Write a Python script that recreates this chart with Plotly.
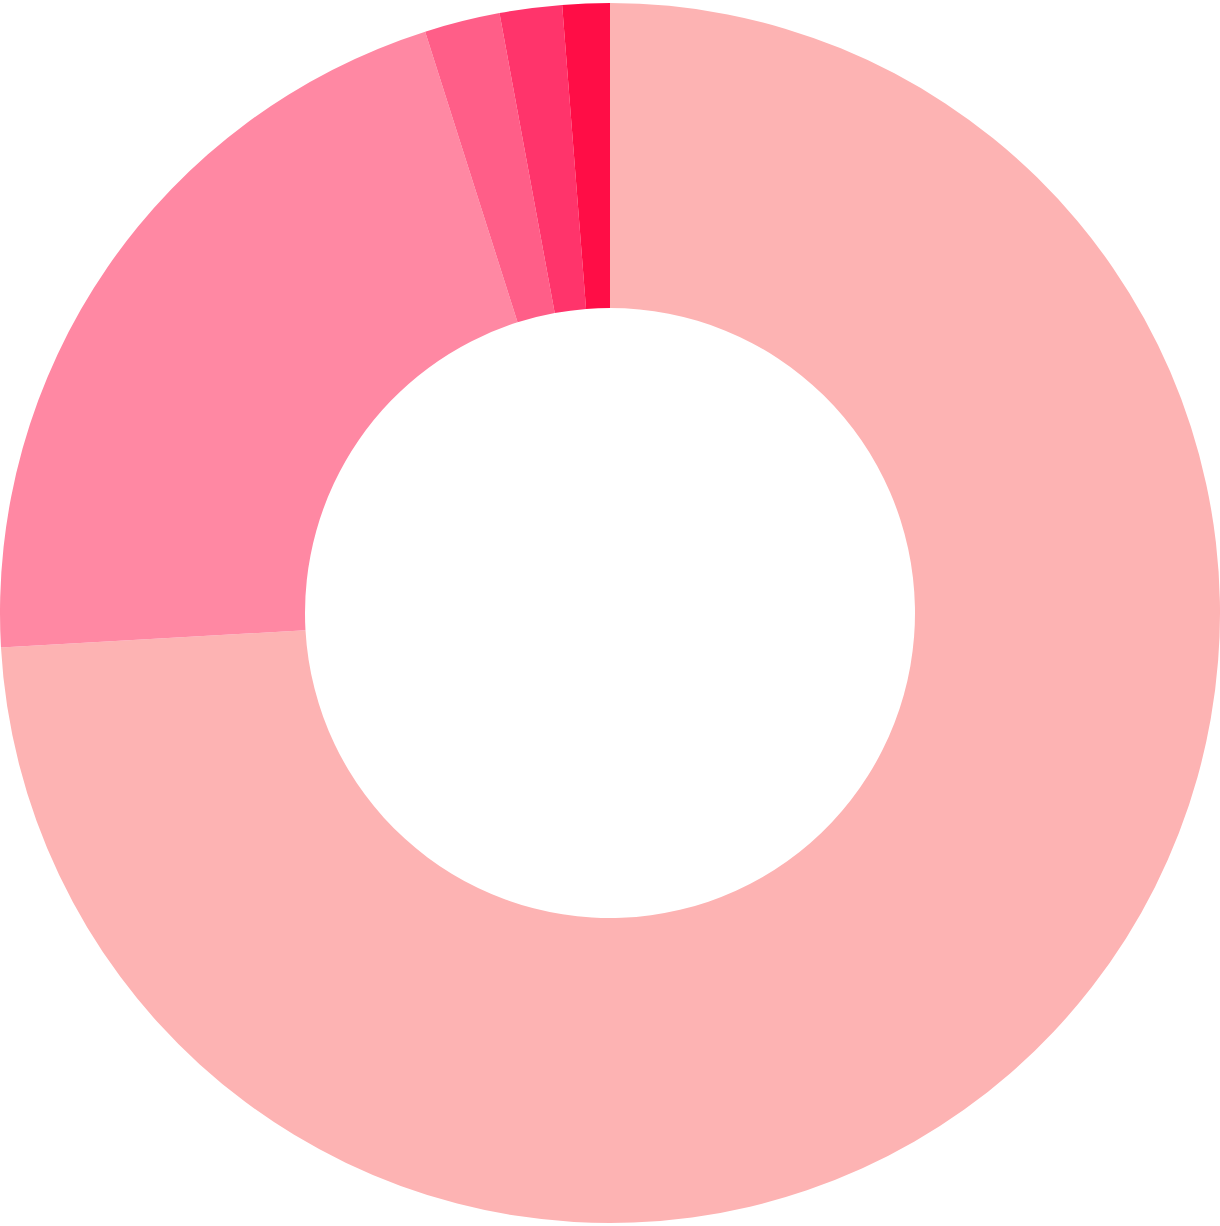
import plotly.graph_objects as go

labels = ["A", "B", "C", "D", "E"]
values = [74.1, 21.0, 2.0, 1.65, 1.25]
colors = ["#FDB3B3", "#FF88A3", "#FF5E88", "#FF346B", "#FF0D46"]

fig = go.Figure(go.Pie(
    labels=labels,
    values=values,
    hole=0.5,
    sort=False,
    direction="clockwise",
    rotation=0,
    marker=dict(colors=colors, line=dict(width=0)),
    textinfo="none",
    showlegend=False,
))
fig.update_layout(
    width=1220, height=1226,
    margin=dict(l=0, r=0, t=0, b=0),
    paper_bgcolor="white", plot_bgcolor="white",
)
fig.write_html("out.html")
